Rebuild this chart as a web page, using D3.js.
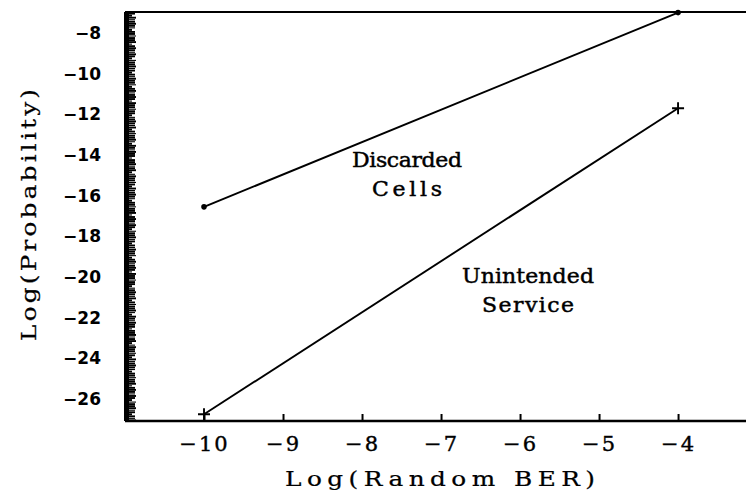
<!DOCTYPE html>
<html>
<head>
<meta charset="utf-8">
<script src="https://cdn.jsdelivr.net/npm/d3@7"></script>
<style>
  html, body { margin: 0; padding: 0; background: #fff; }
  svg { display: block; }
</style>
</head>
<body>
<svg id="chart" width="746" height="494"></svg>
<script>
// Log10 of random bit error rate
const berLog = [-10, -4];
// Log10 probability for each outcome
const discardedCells = [-16.55, -7.0];
const unintendedService = [-26.75, -11.7];
const xTicks = [-10, -9, -8, -7, -6, -5, -4];
const yTicks = [-8, -10, -12, -14, -16, -18, -20, -22, -24, -26];

(function draw() {
  const svg = d3.select("#chart");
  const padL = 125, padT = 12, baseY = 421, edgeR = 746;

  const x = d3.scaleLinear().domain([-11, -3.14]).range([padL, edgeR]);
  const y = d3.scaleLinear().domain([-6.97, -27.08]).range([padT, baseY]);

  const ink = "#000";

  // frame: top border, bottom axis line, left spine
  svg.append("line").attr("x1", padL).attr("x2", edgeR).attr("y1", padT).attr("y2", padT)
    .attr("stroke", ink).attr("stroke-width", 2);
  svg.append("line").attr("x1", padL).attr("x2", edgeR).attr("y1", baseY).attr("y2", baseY)
    .attr("stroke", ink).attr("stroke-width", 2.4);
  svg.append("line").attr("x1", padL + 1.5).attr("x2", padL + 1.5).attr("y1", padT).attr("y2", baseY)
    .attr("stroke", ink).attr("stroke-width", 5);

  // dense fine ticks along the left axis
  const fine = d3.range(-27.05, -6.99, 0.1);
  svg.append("g").selectAll("line").data(fine).join("line")
    .attr("x1", padL)
    .attr("x2", (d, i) => padL + (i % 7 === 3 ? 7 : (i % 3 === 0 ? 11 : 10)))
    .attr("y1", d => y(d)).attr("y2", d => y(d))
    .attr("stroke", ink).attr("stroke-width", (d, i) => (i % 4 === 1 ? 1.1 : 1.9));

  // y tick labels
  svg.append("g").selectAll("text").data(yTicks).join("text")
    .attr("x", 101).attr("y", d => y(d))
    .attr("dy", "0.36em")
    .attr("text-anchor", "end")
    .attr("font-family", "DejaVu Sans")
    .attr("font-weight", "bold")
    .attr("font-size", 17)
    .attr("fill", ink)
    .text(d => d3.format("d")(d).replace("-", "\u2212"));

  // x ticks
  const xAxis = d3.axisBottom(x).tickValues(xTicks).tickSize(-7).tickPadding(15)
    .tickFormat(d => String(d).replace("-", "\u2212"));
  const gx = svg.append("g").attr("transform", `translate(0,${baseY})`).call(xAxis);
  gx.select(".domain").remove();
  gx.selectAll(".tick line").attr("stroke", ink).attr("stroke-width", 2);
  gx.selectAll(".tick text")
    .attr("font-family", "DejaVu Serif")
    .attr("font-size", 21)
    .attr("letter-spacing", 2)
    .attr("stroke", ink).attr("stroke-width", 0.4)
    .attr("fill", ink);

  // axis titles (slightly widened glyphs)
  svg.append("text")
    .attr("transform", "translate(440,486) scale(1.18,1)")
    .attr("text-anchor", "middle")
    .attr("font-family", "DejaVu Serif")
    .attr("font-size", 21)
    .attr("textLength", 310 / 1.18).attr("lengthAdjust", "spacing")
    .attr("stroke", ink).attr("stroke-width", 0.25)
    .attr("fill", ink)
    .text("Log(Random BER)");

  svg.append("text")
    .attr("transform", "translate(36,215) rotate(-90) scale(1.18,1)")
    .attr("text-anchor", "middle")
    .attr("font-family", "DejaVu Serif")
    .attr("font-size", 21)
    .attr("textLength", 252 / 1.18).attr("lengthAdjust", "spacing")
    .attr("stroke", ink).attr("stroke-width", 0.25)
    .attr("fill", ink)
    .text("Log(Probability)");

  // series lines
  const series = [discardedCells, unintendedService];
  const line = d3.line().x((d, i) => x(berLog[i])).y(d => y(d));
  svg.append("g").selectAll("path").data(series).join("path")
    .attr("d", s => line(s))
    .attr("fill", "none").attr("stroke", ink).attr("stroke-width", 1.9);

  // dot markers for discarded cells
  svg.append("g").selectAll("circle").data(discardedCells).join("circle")
    .attr("cx", (d, i) => x(berLog[i])).attr("cy", d => y(d))
    .attr("r", 2.8).attr("fill", ink);

  // plus markers for unintended service
  svg.append("g").selectAll("path").data(unintendedService).join("path")
    .attr("transform", (d, i) => `translate(${x(berLog[i])},${y(d)})`)
    .attr("d", "M-6,0H6M0,-6V6")
    .attr("stroke", ink).attr("stroke-width", 1.9).attr("fill", "none");

  // curve annotations
  const notes = [
    { lines: [["Discarded", 110], ["Cells", 70]], cx: 407, cy: 160 },
    { lines: [["Unintended", 132], ["Service", 92]], cx: 528, cy: 276 }
  ];
  notes.forEach(n => {
    n.lines.forEach(([t, w], i) => {
      svg.append("text")
        .attr("transform", `translate(${n.cx},${n.cy + i * 29}) scale(1.1,1)`)
        .attr("dy", "0.35em")
        .attr("text-anchor", "middle")
        .attr("font-family", "DejaVu Serif")
        .attr("font-size", 20)
        .attr("textLength", w / 1.1).attr("lengthAdjust", "spacing")
        .attr("stroke", ink).attr("stroke-width", 0.45)
        .attr("fill", ink)
        .text(t);
    });
  });
})();
</script>
</body>
</html>
